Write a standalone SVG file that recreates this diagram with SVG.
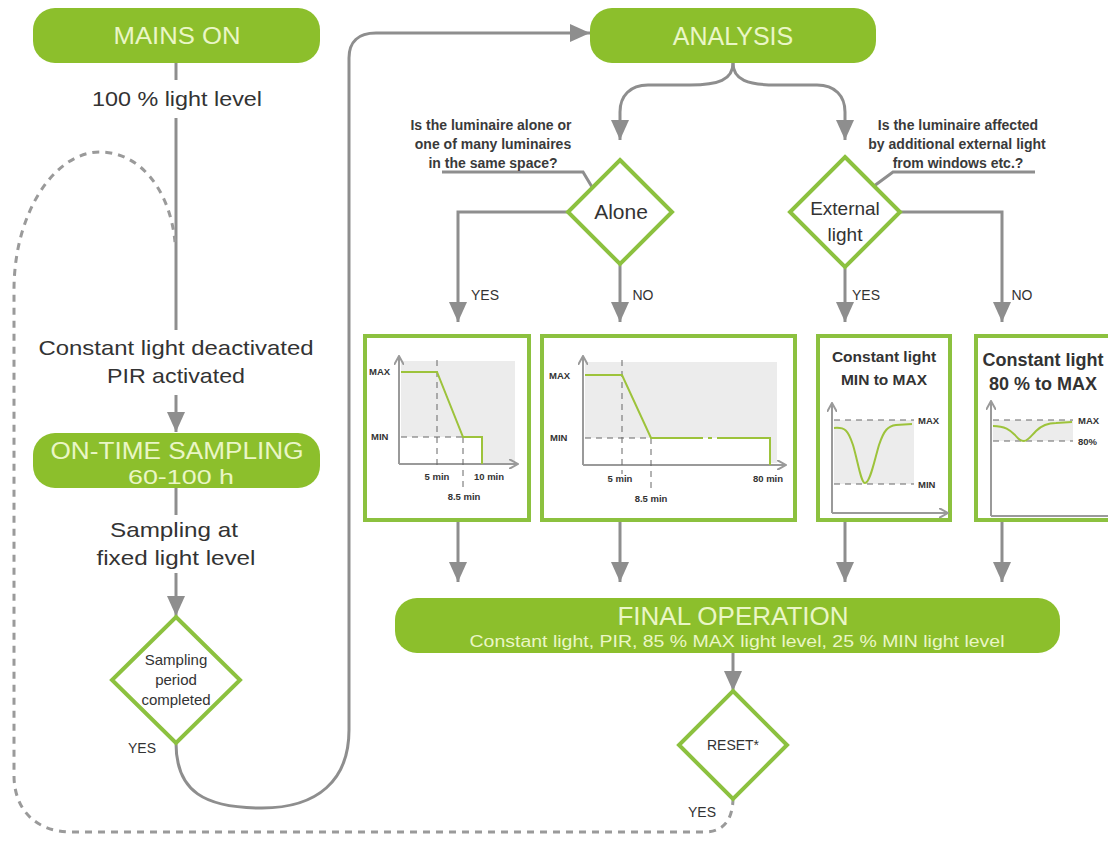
<svg xmlns="http://www.w3.org/2000/svg" width="1108" height="846" viewBox="0 0 1108 846">
<defs>
<marker id="arr" markerUnits="userSpaceOnUse" markerWidth="22" markerHeight="18" refX="20" refY="9" orient="auto">
<path d="M0,0 L20,9 L0,18 z" fill="#8e8e8e"/>
</marker>
<marker id="arrs" markerUnits="userSpaceOnUse" markerWidth="10" markerHeight="10" refX="9" refY="5" orient="auto">
<path d="M0,0 L9,5 L0,10" fill="none" stroke="#9a9a9a" stroke-width="2"/>
</marker>
<style>
.pill{fill:#8cbf2c}
.pt{font-family:"Liberation Sans",Arial,sans-serif;fill:#eaf6c6;text-anchor:middle}
.t{font-family:"Liberation Sans",Arial,sans-serif;fill:#333;text-anchor:middle}
.dia{fill:#fff;stroke:#8cc13f;stroke-width:4}
.box{fill:#fff;stroke:#8cc13f;stroke-width:4}
.ln{fill:none;stroke:#8e8e8e;stroke-width:3}
.dash{fill:none;stroke:#9a9a9a;stroke-width:3;stroke-dasharray:7 6}
.ax{fill:none;stroke:#9a9a9a;stroke-width:2}
.gd{fill:none;stroke:#666;stroke-width:1;stroke-dasharray:6 5}
.cv{fill:none;stroke:#9dc33b;stroke-width:2}
.sm{font-family:"Liberation Sans",Arial,sans-serif;fill:#333;font-size:9.5px;font-weight:bold}
.sh{fill:#ececec}
.q{font-family:"Liberation Sans",Arial,sans-serif;fill:#3a3a3a;font-size:14px;font-weight:bold;text-anchor:middle}
</style>
</defs>
<rect width="1108" height="846" fill="#fff"/>

<g id="connectors">
<line class="ln" x1="176" y1="63" x2="176" y2="80"/>
<line class="ln" x1="176" y1="118" x2="176" y2="330"/>
<line class="ln" x1="176" y1="395" x2="176" y2="432" marker-end="url(#arr)"/>
<line class="ln" x1="176" y1="488" x2="176" y2="515"/>
<line class="ln" x1="176" y1="573" x2="176" y2="616" marker-end="url(#arr)"/>
<path class="ln" d="M176,743 C176,792 205,808 262,808 C318,808 349,780 349,730 L349,58 C349,42 358,33 376,33 L590,33" marker-end="url(#arr)"/>
<path class="ln" d="M733,63 C733,80 718,85 690,85 L648,85 C630,85 620,96 620,112 L620,140" marker-end="url(#arr)"/>
<path class="ln" d="M733,63 C733,80 748,85 776,85 L817,85 C835,85 845,96 845,112 L845,140" marker-end="url(#arr)"/>
<path class="ln" d="M442,172 L583,172 L592,187"/>
<path class="ln" d="M1035,172 L893,172 L870,189"/>
<path class="ln" d="M568,212 L458,212 L458,322" marker-end="url(#arr)"/>
<line class="ln" x1="620" y1="264" x2="620" y2="322" marker-end="url(#arr)"/>
<path class="ln" d="M900,212 L1002,212 L1002,322" marker-end="url(#arr)"/>
<line class="ln" x1="845" y1="267" x2="845" y2="322" marker-end="url(#arr)"/>
<line class="ln" x1="458" y1="520" x2="458" y2="582" marker-end="url(#arr)"/>
<line class="ln" x1="620" y1="520" x2="620" y2="582" marker-end="url(#arr)"/>
<line class="ln" x1="845" y1="520" x2="845" y2="582" marker-end="url(#arr)"/>
<line class="ln" x1="1002" y1="520" x2="1002" y2="582" marker-end="url(#arr)"/>
<line class="ln" x1="733" y1="653" x2="733" y2="691" marker-end="url(#arr)"/>
<path class="dash" d="M733,798 C733,816 726,832 705,832 L72,832 C36,832 14,810 14,775 L14,290 C14,212 55,152 100,152 C140,152 170,190 175,242"/>
</g>

<g id="mains-on">
<rect class="pill" x="33" y="8" width="287" height="55" rx="22"/>
<text class="pt" x="177" y="44" font-size="24" textLength="127" lengthAdjust="spacingAndGlyphs">MAINS ON</text>
</g>
<g id="label-100">
<text class="t" x="177" y="106" font-size="20" textLength="170" lengthAdjust="spacingAndGlyphs">100 % light level</text>
</g>
<g id="label-constant">
<text class="t" x="176" y="355" font-size="21" textLength="275" lengthAdjust="spacingAndGlyphs">Constant light deactivated</text>
<text class="t" x="176" y="383" font-size="21" textLength="138" lengthAdjust="spacingAndGlyphs">PIR activated</text>
</g>
<g id="on-time-sampling">
<rect class="pill" x="33" y="433" width="287" height="55" rx="22"/>
<text class="pt" x="177" y="459" font-size="23" textLength="253" lengthAdjust="spacingAndGlyphs">ON-TIME SAMPLING</text>
<text class="pt" x="181" y="484" font-size="21" textLength="106" lengthAdjust="spacingAndGlyphs">60-100 h</text>
</g>
<g id="label-sampling">
<text class="t" x="174" y="537" font-size="21" textLength="128" lengthAdjust="spacingAndGlyphs">Sampling at</text>
<text class="t" x="176" y="565" font-size="21" textLength="159" lengthAdjust="spacingAndGlyphs">fixed light level</text>
</g>
<g id="sampling-period">
<path class="dia" d="M176,617 L240,680 L176,743 L112,680 z"/>
<text class="t" x="176" y="665" font-size="15">Sampling</text>
<text class="t" x="176" y="685" font-size="15">period</text>
<text class="t" x="176" y="705" font-size="15">completed</text>
<text class="t" x="142" y="753" font-size="14">YES</text>
</g>

<g id="analysis">
<rect class="pill" x="590" y="8" width="286" height="55" rx="22"/>
<text class="pt" x="733" y="45" font-size="25">ANALYSIS</text>
</g>

<g id="question-alone">
<text class="q" x="491" y="130">Is the luminaire alone or</text>
<text class="q" x="493" y="149">one of many luminaires</text>
<text class="q" x="493" y="168">in the same space?</text>
</g>
<g id="alone">
<path class="dia" d="M620,160 L672,212 L620,264 L568,212 z"/>
<text class="t" x="621" y="219" font-size="21">Alone</text>
<text class="t" x="485" y="300" font-size="14">YES</text>
<text class="t" x="643" y="300" font-size="14">NO</text>
</g>

<g id="question-external">
<text class="q" x="958" y="130">Is the luminaire affected</text>
<text class="q" x="957" y="149">by additional external light</text>
<text class="q" x="958" y="168">from windows etc.?</text>
</g>
<g id="external-light">
<path class="dia" d="M845,157 L900,212 L845,267 L790,212 z"/>
<text class="t" x="845" y="215" font-size="19">External</text>
<text class="t" x="845" y="241" font-size="19">light</text>
<text class="t" x="866" y="300" font-size="14">YES</text>
<text class="t" x="1022" y="300" font-size="14">NO</text>
</g>

<g id="chart-1">
<rect class="box" x="365" y="336" width="164" height="184"/>
<rect class="sh" x="401" y="361" width="114" height="102"/>
<rect fill="#fff" x="401" y="437" width="81" height="26"/>
<path class="ax" d="M399,464 L399,356" marker-end="url(#arrs)"/>
<path class="ax" d="M399,464 L518,464" marker-end="url(#arrs)"/>
<line class="gd" x1="437" y1="360" x2="437" y2="470"/>
<line class="gd" x1="401" y1="437" x2="463" y2="437"/>
<line class="gd" x1="463" y1="437" x2="463" y2="488"/>
<path class="cv" d="M401,372 L437,372 L463,437 L482,437 L482,464"/>
<text class="sm" x="369" y="375">MAX</text>
<text class="sm" x="371" y="440">MIN</text>
<text class="sm" x="437" y="480" text-anchor="middle">5 min</text>
<text class="sm" x="489" y="480" text-anchor="middle">10 min</text>
<text class="sm" x="464" y="500" text-anchor="middle">8.5 min</text>
</g>

<g id="chart-2">
<rect class="box" x="542" y="336" width="253" height="184"/>
<rect class="sh" x="585" y="362" width="192" height="101"/>
<rect fill="#fff" x="585" y="438" width="185" height="25"/>
<path class="ax" d="M583,465 L583,356" marker-end="url(#arrs)"/>
<path class="ax" d="M583,465 L786,465" marker-end="url(#arrs)"/>
<line class="gd" x1="622" y1="360" x2="622" y2="474"/>
<line class="gd" x1="585" y1="438" x2="651" y2="438"/>
<line class="gd" x1="651" y1="438" x2="651" y2="490"/>
<path class="cv" d="M585,375 L622,375 L651,438 L703,438 M708,438 L712,438 M717,438 L770,438 L770,465"/>
<text class="sm" x="549" y="379">MAX</text>
<text class="sm" x="550" y="441">MIN</text>
<text class="sm" x="620" y="482" text-anchor="middle">5 min</text>
<text class="sm" x="768" y="482" text-anchor="middle">80 min</text>
<text class="sm" x="651" y="502" text-anchor="middle">8.5 min</text>
</g>

<g id="chart-3">
<rect class="box" x="818" y="336" width="132" height="184"/>
<text class="t" x="884" y="362" font-size="15.5" font-weight="bold">Constant light</text>
<text class="t" x="884" y="385" font-size="15.5" font-weight="bold">MIN to MAX</text>
<rect class="sh" x="834" y="420" width="80" height="64"/>
<path class="ax" d="M832,513 L832,403" marker-end="url(#arrs)"/>
<path class="ax" d="M832,513 L948,513" marker-end="url(#arrs)"/>
<line class="gd" x1="834" y1="420" x2="914" y2="420"/>
<line class="gd" x1="834" y1="484" x2="914" y2="484"/>
<path class="cv" d="M834,428 C845,427 848,430 853,445 C858,462 861,483 865,483 C870,483 874,462 879,445 C884,430 888,426 896,425 L912,424"/>
<text class="sm" x="918" y="424">MAX</text>
<text class="sm" x="918" y="488">MIN</text>
</g>

<g id="chart-4">
<rect class="box" x="976" y="336" width="134" height="184"/>
<text class="t" x="1043" y="366" font-size="18" font-weight="bold">Constant light</text>
<text class="t" x="1043" y="390" font-size="18" font-weight="bold">80 % to MAX</text>
<rect class="sh" x="993" y="420" width="80" height="21"/>
<path class="ax" d="M991,516 L991,401" marker-end="url(#arrs)"/>
<path class="ax" d="M991,516 L1108,516"/>
<line class="gd" x1="993" y1="420" x2="1073" y2="420"/>
<line class="gd" x1="993" y1="441" x2="1073" y2="441"/>
<path class="cv" d="M993,426 C1005,426 1010,430 1015,435 C1019,440 1021,441 1024,441 C1028,441 1031,436 1036,431 C1041,426 1047,423 1056,423 L1072,422"/>
<text class="sm" x="1078" y="424">MAX</text>
<text class="sm" x="1078" y="445">80%</text>
</g>

<g id="final-operation">
<rect class="pill" x="395" y="598" width="665" height="55" rx="22"/>
<text class="pt" x="733" y="625" font-size="26">FINAL OPERATION</text>
<text class="pt" x="737" y="647" font-size="16" textLength="535" lengthAdjust="spacingAndGlyphs">Constant light, PIR, 85 % MAX light level, 25 % MIN light level</text>
</g>

<g id="reset">
<path class="dia" d="M733,691 L787,745 L733,799 L679,745 z"/>
<text class="t" x="733" y="750" font-size="14">RESET*</text>
<text class="t" x="702" y="817" font-size="14">YES</text>
</g>
</svg>
